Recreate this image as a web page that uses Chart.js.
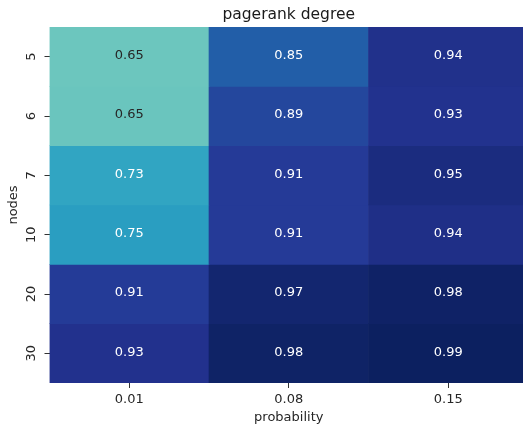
<!DOCTYPE html>
<html>
<head>
<meta charset="utf-8">
<script src="https://cdn.jsdelivr.net/npm/chart.js@4/dist/chart.umd.min.js"></script>
<style>
  html, body { margin: 0; padding: 0; background: #ffffff; overflow: hidden; width: 523px; height: 430px; }
  canvas { display: block; }
</style>
</head>
<body>
<canvas id="c" width="577" height="430"></canvas>
<script>
// ---- data ----
const chartTitle = 'pagerank degree';
const probabilities = ['0.01', '0.08', '0.15'];
const nodes = ['5', '6', '7', '10', '20', '30'];
// values per probability column, rows in order of nodes
const p001 = [0.648, 0.650, 0.734, 0.748, 0.912, 0.934];
const p008 = [0.850, 0.891, 0.914, 0.914, 0.971, 0.982];
const p015 = [0.936, 0.932, 0.951, 0.941, 0.983, 0.990];
const columns = [p001, p008, p015];
const vmin = 0.4, vmax = 1.0;

// ---- colormap (YlGnBu) ----
const stops = ['#ffffd9','#edf8b1','#c7e9b4','#7fcdbb','#41b6c4','#1d91c0','#225ea8','#253494','#081d58']
  .map(h => [parseInt(h.slice(1,3),16), parseInt(h.slice(3,5),16), parseInt(h.slice(5,7),16)]);
function cmap(v) {
  let t = (v - vmin) / (vmax - vmin);
  t = Math.max(0, Math.min(1, t));
  const pos = t * (stops.length - 1);
  const i = Math.min(stops.length - 2, Math.floor(pos));
  const f = pos - i;
  return stops[i].map((c, k) => Math.round(c + (stops[i + 1][k] - c) * f));
}
function rgbStr(c) { return 'rgb(' + c.join(',') + ')'; }
function lum(c) {
  const l = c.map(x => { x /= 255; return x <= 0.03928 ? x / 12.92 : Math.pow((x + 0.055) / 1.055, 2.4); });
  return 0.2126 * l[0] + 0.7152 * l[1] + 0.0722 * l[2];
}

Chart.defaults.font.family = "'DejaVu Sans', sans-serif";
Chart.defaults.font.size = 13;
Chart.defaults.color = '#262626';

const datasets = nodes.map((n, r) => ({
  label: n,
  data: probabilities.map((p, j) => [r, r + 1]),
  values: columns.map(col => col[r]),
  backgroundColor: columns.map(col => rgbStr(cmap(col[r]))),
  borderWidth: 0,
  barPercentage: 1,
  categoryPercentage: 1
}));

const annotate = {
  id: 'annotate',
  afterDatasetsDraw(chart) {
    const ctx = chart.ctx;
    ctx.save();
    ctx.font = "13px 'DejaVu Sans', sans-serif";
    ctx.textAlign = 'center';
    ctx.textBaseline = 'middle';
    chart.data.datasets.forEach((ds, r) => {
      const meta = chart.getDatasetMeta(r);
      meta.data.forEach((bar, j) => {
        const v = ds.values[j];
        const c = cmap(v);
        ctx.fillStyle = lum(c) > 0.408 ? '#262626' : '#ffffff';
        const p = bar.getCenterPoint();
        ctx.fillText(v.toFixed(2), p.x, p.y - 1);
      });
    });
    // title centred over the plot area
    const a = chart.chartArea;
    ctx.font = "15.5px 'DejaVu Sans', sans-serif";
    ctx.fillStyle = '#1a1a1a';
    ctx.textBaseline = 'alphabetic';
    ctx.fillText(chartTitle, (a.left + a.right) / 2, a.top - 8.5);
    ctx.restore();
  }
};

new Chart(document.getElementById('c'), {
  type: 'bar',
  data: { labels: probabilities, datasets },
  options: {
    responsive: false,
    animation: false,
    devicePixelRatio: 1,
    layout: { padding: { left: 0, right: 49, top: 27, bottom: 0 } },
    plugins: {
      legend: { display: false },
      tooltip: { enabled: false },
      title: { display: false }
    },
    scales: {
      x: {
        type: 'category',
        stacked: true,
        offset: true,
        grid: { display: true, drawOnChartArea: false, offset: false, tickLength: 5, color: '#333333' },
        border: { display: false },
        ticks: { padding: 4, color: '#262626' },
        title: { display: true, text: 'probability', color: '#262626', padding: { top: 0, bottom: 5 } },
        afterFit(s) { s.height = 47; }
      },
      y: {
        type: 'linear',
        stacked: false,
        min: 0, max: 6,
        reverse: true,
        grid: { display: true, drawOnChartArea: false, tickLength: 5, color: '#333333' },
        border: { display: false },
        afterBuildTicks(s) { s.ticks = nodes.map((n, i) => ({ value: i + 0.5 })); },
        ticks: {
          autoSkip: false,
          minRotation: 90, maxRotation: 90,
          crossAlign: 'center',
          padding: 5,
          color: '#262626',
          callback: (v, i) => nodes[i]
        },
        title: { display: true, text: 'nodes', color: '#262626', padding: { top: 6, bottom: 0 } },
        afterFit(s) { s.width = 49.5; }
      }
    }
  },
  plugins: [annotate]
});
</script>
</body>
</html>
